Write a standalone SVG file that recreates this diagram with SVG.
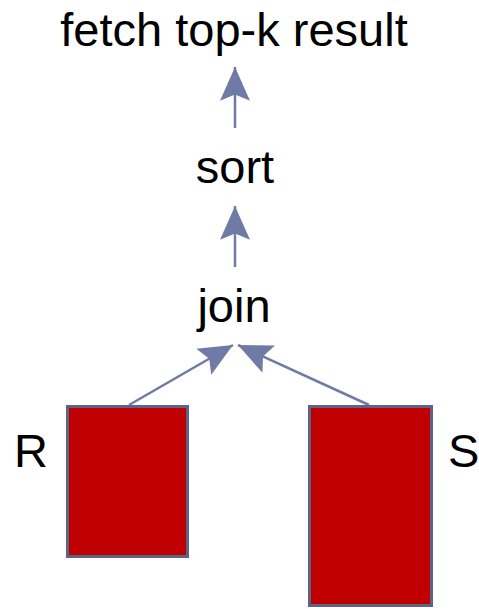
<svg xmlns="http://www.w3.org/2000/svg" width="479" height="609" viewBox="0 0 479 609">
<style>
.lbl{font-family:"Liberation Sans",Arial,sans-serif;font-size:47px;fill:#000}
.rel{fill:#c00000;stroke:#5b6488;stroke-width:3}
.edge{stroke:#6f7ba6;stroke-width:2.5;fill:none}
</style>
<defs>
<marker id="ah" markerUnits="userSpaceOnUse" markerWidth="40" markerHeight="40" viewBox="-30 -15 32 30" refX="0" refY="0" orient="auto">
<path d="M0,0 L-27,-12 L-22,0 L-27,12 Z" fill="#6f7ba6"/>
</marker>
</defs>
<g id="connectors">
<line class="edge" x1="235" y1="128" x2="235" y2="67" marker-end="url(#ah)"/>
<line class="edge" x1="235" y1="267" x2="235" y2="206" marker-end="url(#ah)"/>
<line class="edge" x1="129" y1="405" x2="233" y2="345" marker-end="url(#ah)"/>
<line class="edge" x1="369" y1="405" x2="238" y2="345" marker-end="url(#ah)"/>
</g>
<g id="fetch"><text class="lbl" x="234" y="46" text-anchor="middle">fetch top-k result</text></g>
<g id="sort"><text class="lbl" x="235" y="183" text-anchor="middle">sort</text></g>
<g id="join"><text class="lbl" x="234" y="322" text-anchor="middle">join</text></g>
<g id="R">
<rect class="rel" x="67.5" y="406.5" width="120" height="150"/>
<text class="lbl" x="14" y="467">R</text>
</g>
<g id="S">
<rect class="rel" x="309.5" y="406.5" width="122" height="199"/>
<text class="lbl" x="448" y="467">S</text>
</g>
</svg>
